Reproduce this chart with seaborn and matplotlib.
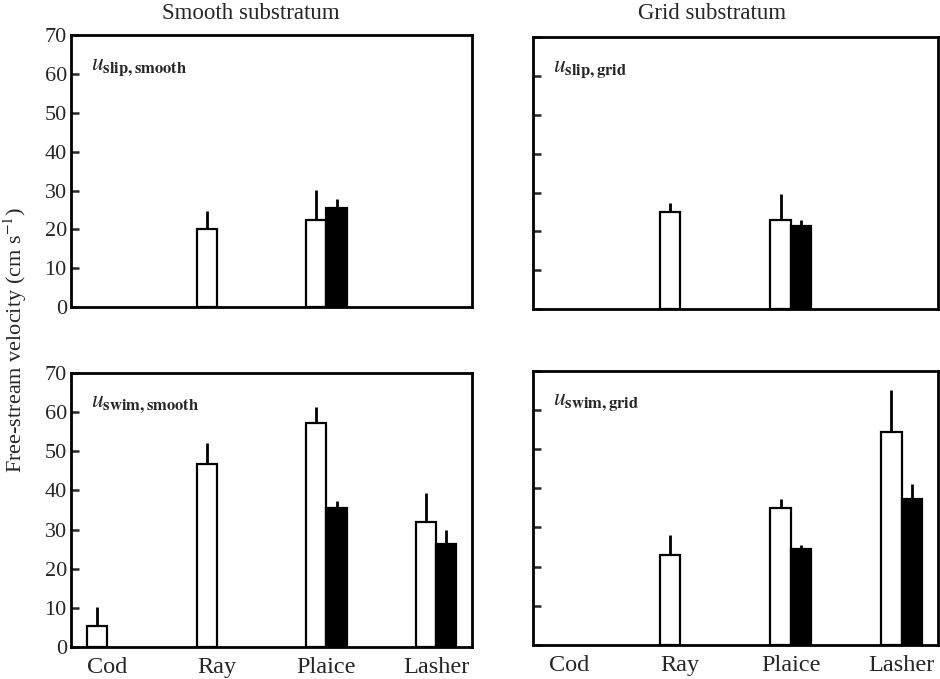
import numpy as np
import pandas as pd
import matplotlib
matplotlib.use("Agg")
import matplotlib.pyplot as plt
import seaborn as sns

# ---- data ----
species = ["Cod", "Ray", "Plaice", "Lasher"]
groups = ["open", "filled"]

# panel: (species, group, mean, upper end of error bar)
slip_smooth_species = ["Ray", "Plaice", "Plaice"]
slip_smooth_group = ["open", "open", "filled"]
slip_smooth_mean = [20.0, 22.5, 25.5]
slip_smooth_top = [24.8, 30.2, 27.7]

slip_grid_species = ["Ray", "Plaice", "Plaice"]
slip_grid_group = ["open", "open", "filled"]
slip_grid_mean = [25.0, 23.0, 21.5]
slip_grid_top = [27.2, 29.6, 22.8]

swim_smooth_species = ["Cod", "Ray", "Plaice", "Plaice", "Lasher", "Lasher"]
swim_smooth_group = ["open", "open", "open", "filled", "open", "filled"]
swim_smooth_mean = [5.4, 46.7, 57.2, 35.6, 31.8, 26.4]
swim_smooth_top = [10.3, 52.0, 61.3, 37.2, 39.2, 30.0]

swim_grid_species = ["Ray", "Plaice", "Plaice", "Lasher", "Lasher"]
swim_grid_group = ["open", "open", "filled", "open", "filled"]
swim_grid_mean = [23.1, 35.0, 24.6, 54.3, 37.2]
swim_grid_top = [28.0, 37.2, 25.6, 65.0, 41.0]

yticks = [0, 10, 20, 30, 40, 50, 60, 70]

panels = [
    (r"$u_{\mathbf{slip,smooth}}$", slip_smooth_species, slip_smooth_group, slip_smooth_mean, slip_smooth_top),
    (r"$u_{\mathbf{slip,grid}}$", slip_grid_species, slip_grid_group, slip_grid_mean, slip_grid_top),
    (r"$u_{\mathbf{swim,smooth}}$", swim_smooth_species, swim_smooth_group, swim_smooth_mean, swim_smooth_top),
    (r"$u_{\mathbf{swim,grid}}$", swim_grid_species, swim_grid_group, swim_grid_mean, swim_grid_top),
]

# ---- style ----
sns.set_style("ticks")
plt.rcParams["font.family"] = ["Liberation Serif", "DejaVu Serif"]
plt.rcParams["mathtext.fontset"] = "stix"

fig = plt.figure(figsize=(9.4, 6.79), dpi=100)
positions = [
    [0.0755, 0.548, 0.427, 0.400],
    [0.567, 0.545, 0.431, 0.400],
    [0.0755, 0.047, 0.427, 0.404],
    [0.567, 0.050, 0.431, 0.404],
]
palette = {"open": "white", "filled": "black"}

for i, (label, sp, gr, mean, top) in enumerate(panels):
    ax = fig.add_axes(positions[i])
    df = pd.DataFrame({"species": sp, "group": gr, "value": mean, "top": top})
    sns.barplot(data=df, x="species", y="value", hue="group", order=species,
                hue_order=groups, palette=palette, edgecolor="black",
                linewidth=1.6, width=0.37, dodge=True, errorbar=None,
                legend=False, ax=ax)
    # upward-only error lines, positioned from the drawn bars
    for cont, g in zip(ax.containers, groups):
        for patch in cont.patches:
            h = patch.get_height()
            if not np.isfinite(h) or h == 0:
                continue
            xc = patch.get_x() + patch.get_width() / 2
            sp_name = species[int(round(xc))]
            row = df[(df.species == sp_name) & (df.group == g)]
            if len(row):
                ax.vlines(xc, h, row["top"].iloc[0], color="black", lw=2.0, zorder=1)
    ax.set_xlim(-0.33, 3.33)
    ax.set_ylim(0, 70)
    ax.set_yticks(yticks)
    ax.set_xlabel("")
    ax.set_ylabel("")
    for s in ax.spines.values():
        s.set_linewidth(2.0)
        s.set_visible(True)
        s.set_color("black")
    ax.tick_params(axis="y", direction="in", length=6, width=1.8, pad=3,
                   labelsize=16, left=True)
    ax.tick_params(axis="x", length=0, labelsize=17.5, pad=7)
    if i % 2 == 1:
        ax.set_yticklabels([])
    if i < 2:
        ax.set_xticklabels([])
    ax.text(0.05, 0.875, label, transform=ax.transAxes, fontsize=17,
            ha="left", va="baseline")

fig.text(0.267, 0.980, "Smooth substratum", ha="center", va="center", fontsize=16.5)
fig.text(0.757, 0.980, "Grid substratum", ha="center", va="center", fontsize=16.5)
fig.text(0.016, 0.5, r"Free-stream velocity (cm s$^{-1}$)", rotation=90,
         ha="center", va="center", fontsize=16)

fig.savefig("out.png", dpi=100)
